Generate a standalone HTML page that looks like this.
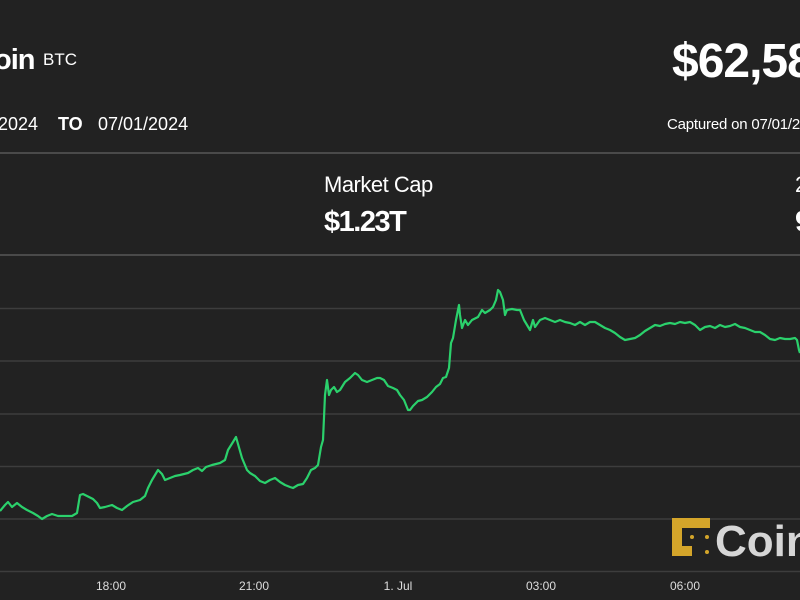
<!DOCTYPE html>
<html><head><meta charset="utf-8"><style>
html,body{margin:0;padding:0;background:#222;width:800px;height:600px;overflow:hidden}
body{position:relative;font-family:"Liberation Sans",sans-serif;color:#fff}
.t{position:absolute;white-space:nowrap}
</style></head><body>
<div class="t" style="left:-6px;top:44px;font-size:29px;font-weight:bold;letter-spacing:-1px">oin</div>
<div class="t" style="left:43px;top:50px;font-size:17px">BTC</div>
<div class="t" style="left:672px;top:34px;font-size:48px;font-weight:bold;letter-spacing:-1px">$62,58</div>
<div class="t" style="left:-2px;top:114px;font-size:18px">2024</div>
<div class="t" style="left:58px;top:114px;font-size:18px;font-weight:bold">TO</div>
<div class="t" style="left:98px;top:114px;font-size:18px">07/01/2024</div>
<div class="t" style="left:667px;top:116px;font-size:15px;letter-spacing:-0.2px">Captured on 07/01/2024</div>
<div class="t" style="left:324px;top:172px;font-size:22px;letter-spacing:-0.5px">Market Cap</div>
<div class="t" style="left:324px;top:206px;font-size:29px;font-weight:bold;letter-spacing:-1.5px">$1.23T</div>
<div class="t" style="left:795px;top:172px;font-size:22px">2</div>
<div class="t" style="left:795px;top:206px;font-size:29px;font-weight:bold">9</div>
<svg width="800" height="600" style="position:absolute;left:0;top:0">
<g stroke="#4a4a4a" stroke-width="2">
<line x1="0" y1="153" x2="800" y2="153"/><line x1="0" y1="255" x2="800" y2="255"/>
</g>
<g stroke="#3d3d3d" stroke-width="1.5">
<line x1="0" y1="308.5" x2="800" y2="308.5"/><line x1="0" y1="361" x2="800" y2="361"/>
<line x1="0" y1="414" x2="800" y2="414"/><line x1="0" y1="466.5" x2="800" y2="466.5"/>
<line x1="0" y1="519" x2="800" y2="519"/><line x1="0" y1="571.5" x2="800" y2="571.5"/>
</g>
<g font-family="Liberation Sans, sans-serif" font-size="12" fill="#ddd" text-anchor="middle">
<text x="111" y="590">18:00</text><text x="254" y="590">21:00</text><text x="398" y="590">1. Jul</text>
<text x="541" y="590">03:00</text><text x="685" y="590">06:00</text>
</g>
<polyline fill="none" stroke="#2bd16c" stroke-width="2.2" stroke-linejoin="round" points="0,511 5,505 8,502 12,507 17,503 22,507 27,510 33,513 38,516 42,519 47,516 52,514 58,516 65,516 72,516 77,513 80,495 83,494 87,496 93,499 97,503 100,508 105,507 112,505 117,508 122,510 127,506 133,502 140,500 145,496 148,488 152,480 158,470 162,474 165,480 170,478 175,476 180,475 188,473 193,470 198,468 202,471 206,467 212,465 220,463 225,460 228,450 233,442 236,437 238,444 242,458 247,470 250,473 255,476 260,481 265,483 270,480 275,478 280,482 285,485 290,487 293,488 298,485 303,484 307,478 311,470 315,468 318,465 321,447 323,440 325,395 327,380 329,395 331,390 334,387 337,392 340,390 345,382 350,378 355,373 358,375 362,380 367,382 372,380 377,378 380,378 384,380 388,386 393,388 397,390 400,395 404,400 408,410 410,410 413,406 418,401 422,400 427,397 432,392 436,387 440,384 443,378 446,377 449,368 451,343 453,338 456,320 459,305 460,315 462,328 465,320 468,325 472,320 478,317 482,310 485,313 490,310 493,307 496,300 498,290 500,292 503,300 505,315 507,310 512,309 517,310 520,310 524,320 527,325 530,330 533,320 535,327 540,320 545,318 550,320 555,322 560,320 565,322 570,323 575,325 580,322 585,325 590,322 595,322 600,325 605,328 610,330 615,333 620,337 625,340 630,339 635,338 640,335 645,331 650,328 655,325 660,326 665,324 670,323 675,324 680,322 685,323 690,322 695,325 700,330 705,327 710,326 715,328 720,325 725,327 730,326 735,324 740,327 745,328 750,330 755,332 760,332 765,335 770,339 775,340 780,338 785,339 790,339 795,338 797,340 799,350 800,353"/>
<g fill="#d4a52a">
<path d="M672,518 h38 v10 h-28 v18 h10 v10 h-20 z" />
<circle cx="692" cy="537" r="2"/><circle cx="707" cy="537" r="2"/><circle cx="707" cy="552" r="2"/>
</g>
<text x="715" y="556" font-family="Liberation Sans, sans-serif" font-size="44" font-weight="bold" fill="#d6d6d6">Coin</text>
</svg>
</body></html>
